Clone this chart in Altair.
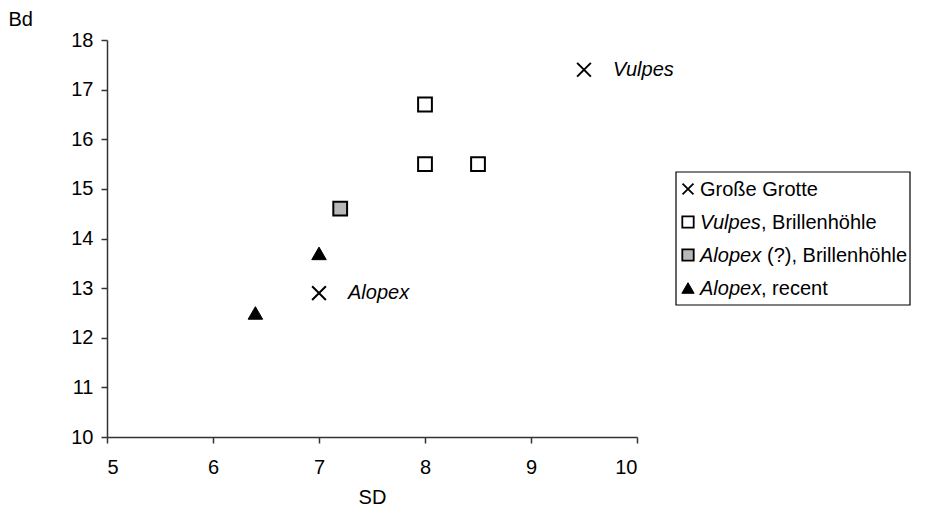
import altair as alt
import pandas as pd

# Measurements: SD (x) against Bd (y)
groups = ["Große Grotte", "Große Grotte", "Vulpes", "Vulpes", "Vulpes",
          "Alopex (?)", "Alopex recent", "Alopex recent"]
sd_values = [7.0, 9.5, 8.0, 8.0, 8.5, 7.2, 7.0, 6.4]
bd_values = [12.9, 17.4, 16.7, 15.5, 15.5, 14.6, 13.7, 12.5]
point_labels = ["Alopex", "Vulpes", "", "", "", "", "", ""]

# Legend entries: italic genus name followed by plain text
legend_rows = [0, 1, 2, 3]
legend_italic = ["", "Vulpes", "Alopex", "Alopex"]
legend_plain = ["Große Grotte", ", Brillenhöhle", "(?), Brillenhöhle", ", recent"]
legend_groups = ["Große Grotte", "Vulpes", "Alopex (?)", "Alopex recent"]

x_ticks = [5, 6, 7, 8, 9, 10]
y_ticks = [10, 11, 12, 13, 14, 15, 16, 17, 18]

FONT = "Liberation Sans"
FS = 20
CROSS = "M-1,-1L1,1M1,-1L-1,1"
ITALIC_WIDTH = 61  # width of an italic genus name at FS
SPACE_WIDTH = 6    # width of a space at FS

df = pd.DataFrame({"group": groups, "SD": sd_values, "Bd": bd_values,
                   "label": point_labels})
leg = pd.DataFrame({"row": legend_rows, "italic": legend_italic,
                    "plain": legend_plain, "group": legend_groups})

x_enc = alt.X("SD:Q", scale=alt.Scale(domain=[5, 10], nice=False, zero=False),
              axis=alt.Axis(values=x_ticks, title="SD", grid=False,
                            labelPadding=14, titlePadding=10))
y_enc = alt.Y("Bd:Q", scale=alt.Scale(domain=[10, 18], nice=False, zero=False),
              axis=alt.Axis(values=y_ticks, title="Bd", grid=False,
                            labelPadding=8, titleAngle=0, titleAlign="left",
                            titleBaseline="middle", titleX=-99, titleY=-21))

base = alt.Chart(df).encode(x=x_enc, y=y_enc)

crosses = base.transform_filter(alt.datum.group == "Große Grotte").mark_point(
    shape=CROSS, size=190, filled=False, stroke="black", strokeWidth=2, opacity=1)
vulpes = base.transform_filter(alt.datum.group == "Vulpes").mark_point(
    shape="square", size=190, filled=True, fill="white", stroke="black",
    strokeWidth=2, opacity=1)
alopex_q = base.transform_filter(alt.datum.group == "Alopex (?)").mark_point(
    shape="square", size=190, filled=True, fill="#b8b8b8", stroke="black",
    strokeWidth=2, opacity=1)
alopex_r = base.transform_filter(alt.datum.group == "Alopex recent").mark_point(
    shape="triangle-up", size=210, filled=True, fill="black", stroke="black",
    strokeWidth=1, opacity=1)
labels = base.transform_filter(alt.datum.label != "").mark_text(
    align="left", baseline="middle", dx=29, font=FONT, fontSize=FS,
    fontStyle="italic", color="black").encode(text="label:N")

plot = alt.layer(crosses, vulpes, alopex_q, alopex_r, labels)

# Legend drawn to the right of the plot area, rows placed by their own scale
leg_y = alt.Y("row:Q", scale=alt.Scale(domain=[0, 3], range=[149, 248]), axis=None)
leg_base = alt.Chart(leg).encode(y=leg_y)

leg_box = alt.Chart(leg).transform_filter(alt.datum.row == 0).mark_rect(
    fill="white", stroke="black", strokeWidth=1.2).encode(
    x=alt.value(569), x2=alt.value(803), y=alt.value(132), y2=alt.value(265))

sym_x = alt.value(581)
leg_cross = leg_base.transform_filter(alt.datum.group == "Große Grotte").mark_point(
    shape=CROSS, size=120, filled=False, stroke="black", strokeWidth=1.8,
    opacity=1).encode(x=sym_x)
leg_vulpes = leg_base.transform_filter(alt.datum.group == "Vulpes").mark_point(
    shape="square", size=130, filled=True, fill="white", stroke="black",
    strokeWidth=1.8, opacity=1).encode(x=sym_x)
leg_alq = leg_base.transform_filter(alt.datum.group == "Alopex (?)").mark_point(
    shape="square", size=130, filled=True, fill="#b8b8b8", stroke="black",
    strokeWidth=1.8, opacity=1).encode(x=sym_x)
leg_alr = leg_base.transform_filter(alt.datum.group == "Alopex recent").mark_point(
    shape="triangle-up", size=150, filled=True, fill="black", stroke="black",
    strokeWidth=1, opacity=1).encode(x=sym_x)

text_x = alt.value(593)
text_style = dict(align="left", baseline="middle", font=FONT, fontSize=FS,
                  color="black", dy=1)
leg_it = leg_base.mark_text(fontStyle="italic", **text_style).encode(
    x=text_x, text="italic:N")
leg_plain0 = leg_base.transform_filter(alt.datum.italic == "").mark_text(
    **text_style).encode(x=text_x, text="plain:N")
# plain text that continues straight after the italic name (starts with a comma)
leg_plain1 = leg_base.transform_filter(
    "datum.italic != '' && indexof(datum.plain, ',') == 0").mark_text(
    dx=ITALIC_WIDTH, **text_style).encode(x=text_x, text="plain:N")
# plain text separated from the italic name by a space
leg_plain2 = leg_base.transform_filter(
    "datum.italic != '' && indexof(datum.plain, ',') != 0").mark_text(
    dx=ITALIC_WIDTH + SPACE_WIDTH, **text_style).encode(x=text_x, text="plain:N")

legend = alt.layer(leg_box, leg_cross, leg_vulpes, leg_alq, leg_alr,
                   leg_it, leg_plain0, leg_plain1, leg_plain2)

chart = alt.layer(plot, legend).resolve_scale(y="independent").properties(
    width=530, height=397, autosize="none",
    padding={"left": 107, "top": 40, "right": 297, "bottom": 78},
    background="white",
).configure_view(stroke=None, clip=False).configure_axis(
    labelFont=FONT, labelFontSize=FS, labelColor="black",
    titleFont=FONT, titleFontSize=FS, titleFontWeight="normal", titleColor="black",
    domainColor="#333333", tickColor="#333333", domainWidth=1.5, tickWidth=1.5,
    tickSize=6,
)

chart.save("out.html", embed_options={"renderer": "svg", "actions": False})
